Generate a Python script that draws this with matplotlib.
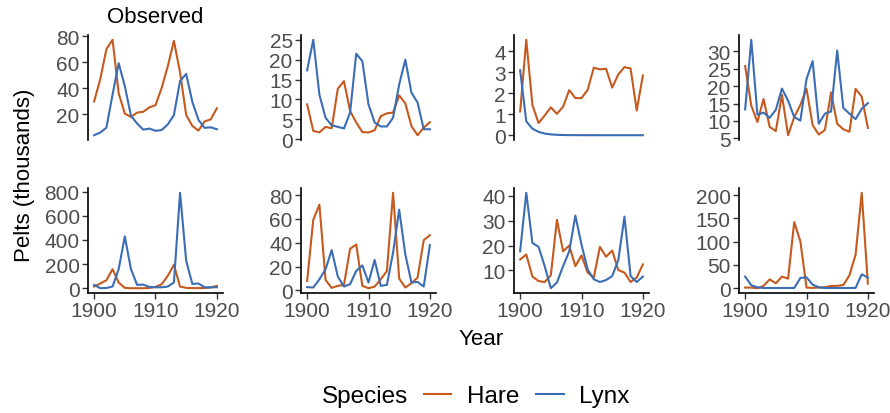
import matplotlib
matplotlib.use("Agg")
import matplotlib.pyplot as plt
from matplotlib.lines import Line2D

plt.rcParams['font.family'] = ['Liberation Sans', 'DejaVu Sans']

years = list(range(1900, 1921))

# panel 1 is the observed data, the others are simulated draws
hare_obs = [30, 47.2, 70.2, 77.4, 36.3, 20.6, 18.1, 21.4, 22, 25.4, 27.1,
            40.3, 57, 76.6, 52.3, 19.5, 11.2, 7.6, 14.6, 16.2, 24.7]
lynx_obs = [4, 6.1, 9.8, 35.2, 59.4, 41.7, 19, 13, 8.3, 9.1, 7.4,
            8, 12.3, 19.5, 45.7, 51.1, 29.7, 15.8, 9.7, 10.1, 8.6]

hare_s1 = [8.75, 2.1, 1.7, 3.1, 2.75, 12.7, 14.6, 7.1, 4.2, 1.8, 1.7,
           2.25, 5.8, 6.5, 6.7, 11, 9, 3.3, 1, 2.9, 4.3]
lynx_s1 = [17.3, 25, 11.2, 5.4, 3.5, 3.1, 2.7, 6.7, 21.5, 19.6, 8.75,
           4.2, 3.2, 3.2, 5.4, 13.75, 20, 11.7, 9.2, 2.5, 2.5]

hare_s2 = [1.13, 4.55, 1.44, 0.58, 0.94, 1.33, 1.02, 1.36, 2.15, 1.77, 1.77,
           2.16, 3.22, 3.14, 3.17, 2.27, 2.9, 3.25, 3.18, 1.18, 2.85]
lynx_s2 = [3.1, 0.66, 0.31, 0.16, 0.08, 0.04, 0.02, 0.01, 0.005, 0.003, 0.002,
           0.001, 0.001, 0, 0, 0, 0, 0, 0, 0, 0]

hare_s3 = [25.75, 14.4, 9.7, 16.3, 8.3, 7.1, 17.5, 5.9, 11.1, 14.6, 19.2,
           8.8, 6.1, 7.4, 18.2, 9.2, 7.6, 6.9, 19.2, 17, 8]
lynx_s3 = [13.3, 33.3, 11.8, 12.4, 10.9, 13.2, 19.3, 15.8, 11.1, 10.1, 22,
           27.2, 9.2, 12.1, 12.7, 30.2, 13.7, 12.1, 10.5, 13.5, 15.1]

hare_s4 = [14, 39, 66, 158, 47, 3, 0, 0, 0, 2, 11,
           33, 102, 194, 14, 3, 1, 1, 2, 6, 19]
lynx_s4 = [28, 0, 2, 14, 158, 429, 158, 28, 30, 11, 8,
           8, 14, 47, 790, 227, 36, 39, 8, 8, 8]

hare_s5 = [8, 59.4, 72, 8.9, 2.2, 3.9, 4.7, 35, 38.6, 3.9, 1.9,
           3.3, 9.4, 16.4, 82, 10, 2.5, 6.1, 10.8, 42.2, 46.4]
lynx_s5 = [2.8, 2.5, 9.4, 17.8, 33.9, 11.7, 3.3, 5.3, 16.4, 21, 6.7,
           25.6, 3.9, 4.7, 31.7, 67.8, 30.3, 6.7, 7.2, 3.3, 38]

hare_s6 = [14.4, 16.4, 7.5, 5.7, 5.3, 8, 30.4, 17.7, 20, 11.7, 16,
           9.1, 7.1, 19.5, 15.5, 18, 10.1, 9.1, 5.3, 7.1, 12.4]
lynx_s6 = [17.7, 41.3, 21.1, 19.5, 11.7, 2.8, 5.1, 11.7, 17.7, 32.1, 20.4,
           10.4, 6.4, 5.3, 6.1, 7.7, 14.1, 31.7, 7.7, 5.3, 7.5]

hare_s7 = [1.4, 1.4, 0, 5, 19, 10.6, 25, 20.6, 142, 100.7, 1.4,
           0.7, 1.4, 2.1, 5, 5, 7, 27.7, 72, 205, 10]
lynx_s7 = [25, 6.4, 2, 0.5, 0.5, 0.5, 0.5, 0.5, 0.5, 22, 23.4,
           7.8, 2, 0.5, 0.5, 0.5, 0.5, 0.5, 0.7, 30, 22.7]

hare_all = [hare_obs, hare_s1, hare_s2, hare_s3, hare_s4, hare_s5, hare_s6, hare_s7]
lynx_all = [lynx_obs, lynx_s1, lynx_s2, lynx_s3, lynx_s4, lynx_s5, lynx_s6, lynx_s7]

yticks_all = [[20, 40, 60, 80], [0, 5, 10, 15, 20, 25], [0, 1, 2, 3, 4],
              [5, 10, 15, 20, 25, 30], [0, 200, 400, 600, 800],
              [0, 20, 40, 60, 80], [10, 20, 30, 40], [0, 50, 100, 150, 200]]
xticks = [1900, 1910, 1920]

hare_col = '#c65a1e'
lynx_col = '#3a6db4'
tick_col = '#4d4d4d'

W, H = 890, 414
fig = plt.figure(figsize=(W / 100, H / 100), dpi=100)

lefts = [88, 301, 514, 739]
tops = [36, 189]
pw, ph = 135, 105

for i in range(8):
    row, col = divmod(i, 4)
    ax = fig.add_axes([lefts[col] / W, 1 - (tops[row] + ph) / H, pw / W, ph / H])
    ax.plot(years, hare_all[i], color=hare_col, lw=1.5)
    ax.plot(years, lynx_all[i], color=lynx_col, lw=1.5)

    lo = min(min(hare_all[i]), min(lynx_all[i]))
    hi = max(max(hare_all[i]), max(lynx_all[i]))
    pad = (hi - lo) * 0.05
    ax.set_ylim(lo - pad, hi + pad)
    ax.set_xlim(1899, 1921)
    ax.set_yticks(yticks_all[i])

    for s in ['top', 'right']:
        ax.spines[s].set_visible(False)
    ax.spines['left'].set_linewidth(1.2)
    ax.tick_params(labelsize=15, colors='#333333', labelcolor=tick_col,
                   length=4, width=1, pad=2)
    if row == 0:
        ax.spines['bottom'].set_visible(False)
        ax.set_xticks([])
    else:
        ax.spines['bottom'].set_linewidth(1.2)
        ax.set_xticks(xticks)
    ax.set_facecolor('none')
    if i == 0:
        ax.set_title("Observed", fontsize=16, pad=9)

fig.text(25 / W, 1 - 175 / H, "Pelts (thousands)", rotation=90,
         ha='center', va='center', fontsize=16)
fig.text(481 / W, 1 - 340 / H, "Year", ha='center', va='center', fontsize=16)

fig.text(322 / W, 1 - 397 / H, "Species", ha='left', va='center', fontsize=17.5)
handles = [Line2D([], [], color=hare_col, lw=1.5),
           Line2D([], [], color=lynx_col, lw=1.5)]
fig.legend(handles, ["Hare", "Lynx"], loc='center left',
           bbox_to_anchor=(424 / W, 1 - 397 / H), ncol=2, frameon=False,
           fontsize=17.5, handlelength=1.12, handletextpad=0.65,
           columnspacing=0.7, borderpad=0, borderaxespad=0)

fig.savefig("out.png", dpi=100)
